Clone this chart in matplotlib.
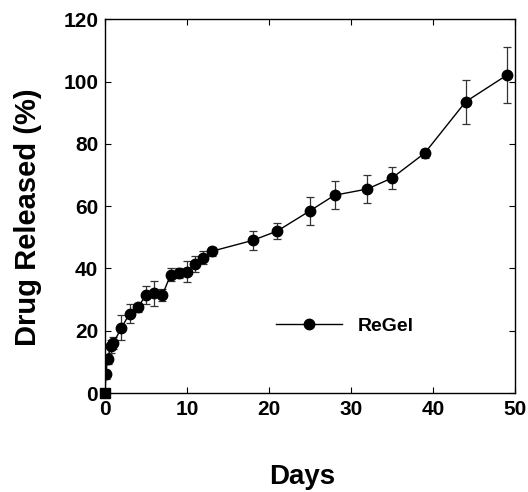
import numpy as np
import matplotlib
matplotlib.use("Agg")
import matplotlib.pyplot as plt

plt.rcParams['font.family'] = ['Liberation Sans', 'DejaVu Sans']
plt.rcParams['font.weight'] = 'bold'

# release data
days = [0, 0.1, 0.3, 0.7, 1, 2, 3, 4, 5, 6, 7, 8, 9, 10, 11, 12, 13,
        18, 21, 25, 28, 32, 35, 39, 44, 49]
released = [0, 6, 11, 15, 16, 21, 25.5, 27.5, 31.5, 32, 31.5, 38, 38.5, 39,
            41.5, 43.5, 45.5, 49, 52, 58.5, 63.5, 65.5, 69, 77, 93.5, 102]
err = [0, 1.5, 1.5, 2, 2, 4, 3, 1.5, 3, 4, 2, 2, 1.5, 3.5, 2.5, 2, 1.5,
       3, 2.5, 4.5, 4.5, 4.5, 3.5, 1.5, 7, 9]

fig = plt.figure(figsize=(5.28, 4.92), dpi=100)
ax = fig.add_axes([0.199, 0.201, 0.776, 0.760])

ax.errorbar(days, released, yerr=err, fmt='none', ecolor='#333333',
            elinewidth=0.9, capsize=3, capthick=0.9, zorder=2)
ax.plot(days[1:], released[1:], '-o', color='black', mfc='black',
        lw=1.0, ms=7.5, label='ReGel', zorder=3)
ax.plot(days[:2], released[:2], '-', color='black', lw=1.0, zorder=3)
ax.plot(days[0], released[0], 's', color='black', ms=6.5, zorder=4,
        clip_on=False)

ax.set_xlim(0, 50)
ax.set_ylim(0, 120)
ax.set_xticks(np.arange(0, 51, 10))
ax.set_yticks(np.arange(0, 121, 20))
ax.tick_params(direction='in', top=True, right=True, length=4, width=0.8,
               labelsize=15, pad=5)
for lab in ax.get_xticklabels() + ax.get_yticklabels():
    lab.set_fontweight('bold')
for s in ax.spines.values():
    s.set_linewidth(1.0)

ax.set_xlabel('Days', fontsize=20, fontweight='bold')
ax.set_ylabel('Drug Released (%)', fontsize=21, fontweight='bold')
ax.xaxis.set_label_coords(0.48, -0.19)
ax.yaxis.set_label_coords(-0.154, 0.47)

leg = ax.legend(loc='center left', bbox_to_anchor=(0.375, 0.18), frameon=False,
                handlelength=3.4, prop={'weight': 'bold', 'size': 14})

fig.savefig('out.png', dpi=100)
